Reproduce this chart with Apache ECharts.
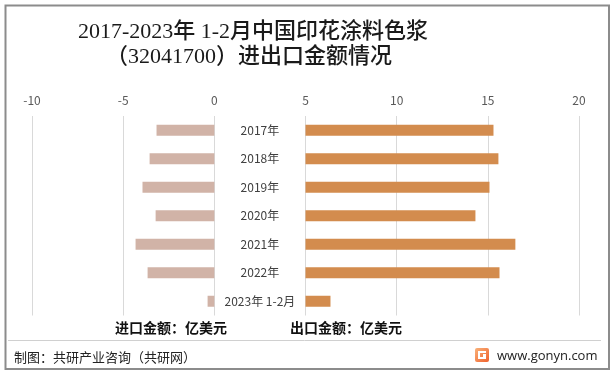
<!DOCTYPE html>
<html>
<head>
<meta charset="utf-8">
<script src="https://cdn.jsdelivr.net/npm/echarts@6/dist/echarts.min.js"></script>
<style>
html,body{margin:0;padding:0;background:#fff;}
#c{width:614px;height:374px;}
</style>
</head>
<body>
<div id="c"></div>
<script>
const categories = ['2017年','2018年','2019年','2020年','2021年','2022年','2023年 1-2月'];
const importValues = [3.17, 3.55, 3.94, 3.22, 4.32, 3.66, 0.37];
const exportValues = [10.31, 10.58, 10.09, 9.32, 11.51, 10.64, 1.37];
const tickMin = -10, tickMax = 20, tickStep = 5;
const titleLines = ['2017-2023年 1-2月中国印花涂料色浆', '（32041700）进出口金额情况'];
const importUnit = '进口金额：亿美元';
const exportUnit = '出口金额：亿美元';
const footerLeft = '制图：共研产业咨询（共研网）';
const footerRight = 'www.gonyn.com';

const LABEL_SPACE = 5; // blank band between 0 and 5 holding category names
const cjk = "'Noto Sans CJK SC','Microsoft YaHei',sans-serif";

const chart = echarts.init(document.getElementById('c'), null, {renderer:'canvas'});
chart.setOption({
  backgroundColor:'#ffffff',
  animation:false,
  grid:{left:32, right:35, top:116, bottom:58.5, containLabel:false},
  xAxis:{
    type:'value', min:tickMin, max:tickMax, interval:tickStep, position:'top',
    axisLine:{show:false}, axisTick:{show:false},
    axisLabel:{color:'#595959', fontSize:12, margin:10, fontFamily:cjk},
    splitLine:{show:true, lineStyle:{color:'#d9d9d9', width:1}}
  },
  yAxis:{
    type:'category', inverse:true, data:categories,
    axisLine:{show:false}, axisTick:{show:false}, axisLabel:{show:false}, splitLine:{show:false}
  },
  series:[
    {
      name:'进口', type:'bar', stack:'all', barWidth:11,
      data:importValues.map(v=>-v),
      itemStyle:{color:'#d1b3a7'}
    },
    {
      name:'gap', type:'bar', stack:'all', barWidth:11,
      data:categories.map(()=>LABEL_SPACE),
      itemStyle:{color:'rgba(0,0,0,0)'},
      label:{show:true, position:'inside', color:'#404040', fontSize:12, fontFamily:cjk,
        formatter:p=>p.name},
      silent:true
    },
    {
      name:'出口', type:'bar', stack:'all', barWidth:11,
      data:exportValues,
      itemStyle:{color:'#d38c4e'}
    }
  ],
  graphic:[
    {type:'rect', shape:{x:5.5, y:5.5, width:603.5, height:363.5},
      style:{fill:'none', stroke:'#8c8c8c', lineWidth:2}, z:100},
    {type:'text', x:253, y:32, style:{text:titleLines[0], textAlign:'center', textVerticalAlign:'middle',
      font:"500 22px 'Liberation Serif','Noto Sans CJK SC',serif", fill:'#1a1a1a'}},
    {type:'text', x:249, y:57, style:{text:titleLines[1], textAlign:'center', textVerticalAlign:'middle',
      font:"500 22px 'Liberation Serif','Noto Sans CJK SC',serif", fill:'#1a1a1a'}},
    {type:'text', x:115, y:328, style:{text:importUnit, textAlign:'left', textVerticalAlign:'middle',
      font:"bold 14px "+cjk, fill:'#111'}},
    {type:'text', x:290, y:328, style:{text:exportUnit, textAlign:'left', textVerticalAlign:'middle',
      font:"bold 14px "+cjk, fill:'#111'}},
    {type:'line', shape:{x1:8, y1:340.5, x2:601, y2:340.5}, style:{stroke:'#d0d0d0', lineWidth:1}},
    {type:'text', x:14, y:357, style:{text:footerLeft, textAlign:'left', textVerticalAlign:'middle',
      font:"normal 13px "+cjk, fill:'#222'}},
    {type:'rect', shape:{x:475, y:348, width:14, height:14, r:2},
      style:{fill:new echarts.graphic.LinearGradient(0,0,1,1,[{offset:0,color:'#f9b27a'},{offset:1,color:'#f0612c'}])}},
    {type:'rect', shape:{x:478, y:351, width:8, height:2}, style:{fill:'#fff'}},
    {type:'rect', shape:{x:478, y:351, width:2, height:8}, style:{fill:'#fff'}},
    {type:'rect', shape:{x:478, y:357, width:8, height:2}, style:{fill:'#fff'}},
    {type:'rect', shape:{x:483, y:354, width:3, height:5}, style:{fill:'#fff'}},
    {type:'text', x:497, y:356, style:{text:footerRight, textAlign:'left', textVerticalAlign:'middle',
      font:"normal 13px 'Open Sans','Noto Sans',sans-serif", fill:'#222'}}
  ]
});
</script>
</body>
</html>
